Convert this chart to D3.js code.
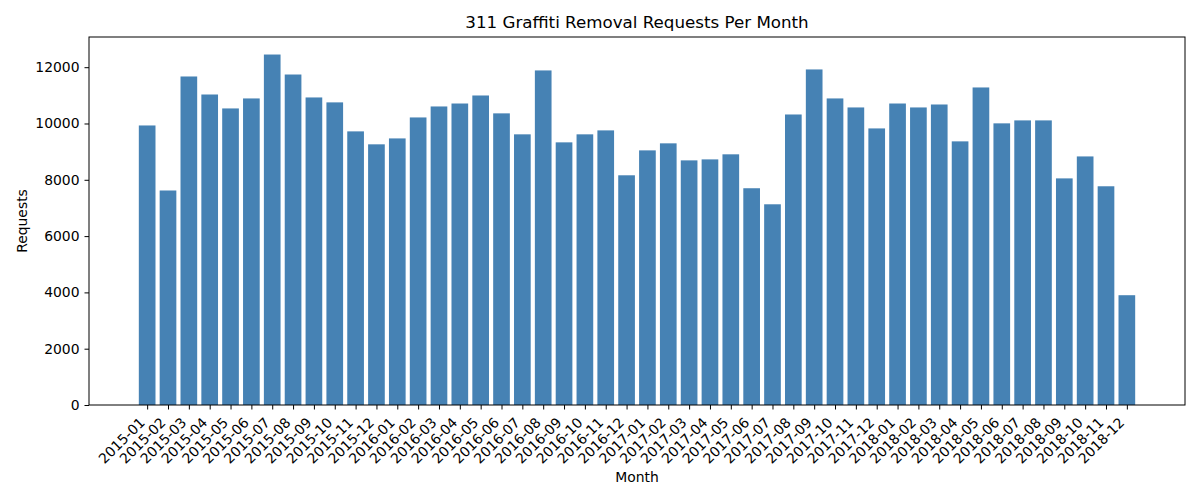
<!DOCTYPE html>
<html>
<head>
<meta charset="utf-8">
<script src="https://cdn.jsdelivr.net/npm/d3@7"></script>
<style>
  body { margin: 0; background: #fff; }
  svg text { font-family: "DejaVu Sans", sans-serif; fill: #000; }
</style>
</head>
<body>
<div id="chart"></div>
<script>
// month labels
var months = ["2015-01","2015-02","2015-03","2015-04","2015-05","2015-06","2015-07","2015-08","2015-09","2015-10","2015-11","2015-12",
  "2016-01","2016-02","2016-03","2016-04","2016-05","2016-06","2016-07","2016-08","2016-09","2016-10","2016-11","2016-12",
  "2017-01","2017-02","2017-03","2017-04","2017-05","2017-06","2017-07","2017-08","2017-09","2017-10","2017-11","2017-12",
  "2018-01","2018-02","2018-03","2018-04","2018-05","2018-06","2018-07","2018-08","2018-09","2018-10","2018-11","2018-12"];

// requests per month
var requests = [9930,7620,11670,11030,10535,10890,12450,11740,10925,10750,9720,9260,
  9470,10215,10605,10710,10995,10360,9615,11885,9330,9615,9755,8160,
  9045,9295,8690,8725,8905,7700,7130,10320,11920,10890,10570,9825,
  10710,10570,10675,9365,11280,10005,10110,10110,8050,8830,7770,3900];

var yTicks = [0,2000,4000,6000,8000,10000,12000];

var w = 1200, h = 500;
var margin = {top: 37, right: 15, bottom: 95, left: 89};
var iw = w - margin.left - margin.right;
var ih = h - margin.top - margin.bottom;

var svg = d3.select("#chart").append("svg")
  .attr("width", w)
  .attr("height", h);

var g = svg.append("g")
  .attr("transform", "translate(" + margin.left + "," + margin.top + ")");

// matplotlib style: bars of width 0.8 with 5% margins
var n = months.length;
var pad = (n - 1 + 0.8) * 0.05 + 0.4;
var x = d3.scaleLinear()
  .domain([-pad, n - 1 + pad])
  .range([0, iw]);

var y = d3.scaleLinear()
  .domain([0, d3.max(requests) * 1.05])
  .range([ih, 0]);

// bars
g.selectAll("rect.bar")
  .data(requests)
  .enter()
  .append("rect")
  .attr("class", "bar")
  .attr("x", function(d, i){ return x(i - 0.4); })
  .attr("width", x(0.8) - x(0))
  .attr("y", function(d){ return y(d); })
  .attr("height", function(d){ return ih - y(d); })
  .attr("fill", "#4682b4");

// y axis
var yAxis = g.append("g")
  .call(d3.axisLeft(y).tickValues(yTicks).tickSize(4.5).tickPadding(5).tickFormat(d3.format("d")));
yAxis.select(".domain").remove();
yAxis.selectAll("text").style("font-size", "13.9px");

// x axis
var xAxis = g.append("g")
  .attr("transform", "translate(0," + ih + ")")
  .call(d3.axisBottom(x).tickValues(d3.range(n)).tickSize(4.5).tickFormat(function(i){ return months[i]; }));
xAxis.select(".domain").remove();
xAxis.selectAll("text")
  .style("font-size", "13.9px")
  .attr("text-anchor", "end")
  .attr("dy", null)
  .attr("y", null)
  .attr("transform", "translate(-2,18.5) rotate(-45)");

// frame
g.append("rect")
  .attr("width", iw)
  .attr("height", ih)
  .attr("fill", "none")
  .attr("stroke", "#000")
  .attr("stroke-width", 1);

// title and axis labels
svg.append("text")
  .attr("x", margin.left + iw / 2)
  .attr("y", 28)
  .attr("text-anchor", "middle")
  .style("font-size", "16.7px")
  .text("311 Graffiti Removal Requests Per Month");

svg.append("text")
  .attr("x", margin.left + iw / 2)
  .attr("y", 482)
  .attr("text-anchor", "middle")
  .style("font-size", "13.9px")
  .text("Month");

svg.append("text")
  .attr("transform", "translate(27," + (margin.top + ih / 2) + ") rotate(-90)")
  .attr("text-anchor", "middle")
  .style("font-size", "13.9px")
  .text("Requests");
</script>
</body>
</html>
